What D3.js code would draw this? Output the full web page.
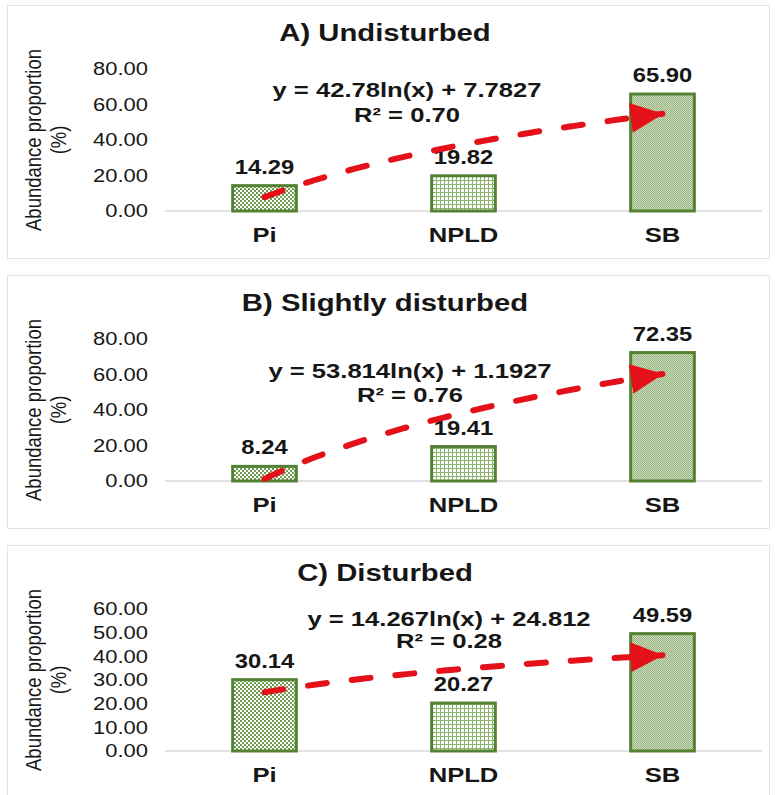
<!DOCTYPE html>
<meta charset="utf-8">
<style>
body { margin: 0; background: #fff; }
svg { display: block; font-family: "Liberation Sans", Arial, sans-serif; }
.panel-box { fill: #fff; stroke: #e4e4e4; stroke-width: 1; }
.baseline { stroke: #d9d9d9; stroke-width: 1.5; }
.bar { stroke: #548235; stroke-width: 3; }
.trend { fill: none; stroke: #e4111b; stroke-width: 6; stroke-dasharray: 19, 25; stroke-linecap: round; }
</style>
<body>
<svg width="775" height="795"></svg>
</body>
<script src="https://d3js.org/d3.v7.min.js"></script>
<script>
// chart data
var categories = ["Pi", "NPLD", "SB"];
var panelTitles = ["A) Undisturbed", "B) Slightly disturbed", "C) Disturbed"];
var undisturbed = [14.29, 19.82, 65.90];
var slightlyDisturbed = [8.24, 19.41, 72.35];
var disturbed = [30.14, 20.27, 49.59];
var yMax = [80, 80, 60];
var yTickStep = [20, 20, 10];
var trendSlope = [42.78, 53.814, 14.267];
var trendIntercept = [7.7827, 1.1927, 24.812];
var trendLabels = ["y = 42.78ln(x) + 7.7827", "y = 53.814ln(x) + 1.1927", "y = 14.267ln(x) + 24.812"];
var r2Labels = ["R\u00b2 = 0.70", "R\u00b2 = 0.76", "R\u00b2 = 0.28"];
var yTitle = ["Abundance proportion", "(%)"];

var panelValues = [undisturbed, slightlyDisturbed, disturbed];
var patternIds = ["pat-check", "pat-grid", "pat-dots"];

// layout (pixels)
var panelTop0 = 5, panelGap = 270, panelH = 253;
var baseOffset = 206, plotH = 142;
var plotLeft = 165, plotRight = 762;
var sx = 1.22; // the picture is wider than plain Arial
var eqPos = [{x: 407, d1: -114, d2: -89}, {x: 410, d1: -103, d2: -79}, {x: 449, d1: -125, d2: -103}];

var svg = d3.select("svg");
var defs = svg.append("defs");

// checker board (Pi)
var p1 = defs.append("pattern").attr("id", "pat-check")
    .attr("width", 4).attr("height", 4).attr("patternUnits", "userSpaceOnUse");
p1.append("rect").attr("width", 4).attr("height", 4).attr("fill", "#ffffff");
p1.append("rect").attr("width", 2).attr("height", 2).attr("fill", "#6f9c50");
p1.append("rect").attr("x", 2).attr("y", 2).attr("width", 2).attr("height", 2).attr("fill", "#6f9c50");

// small grid (NPLD)
var p2 = defs.append("pattern").attr("id", "pat-grid")
    .attr("width", 4).attr("height", 4).attr("patternUnits", "userSpaceOnUse");
p2.append("rect").attr("width", 4).attr("height", 4).attr("fill", "#ffffff");
p2.append("rect").attr("width", 4).attr("height", 1).attr("fill", "#8ab46c");
p2.append("rect").attr("width", 1).attr("height", 4).attr("fill", "#8ab46c");

// fine dots (SB)
var p3 = defs.append("pattern").attr("id", "pat-dots")
    .attr("width", 2).attr("height", 2).attr("patternUnits", "userSpaceOnUse");
p3.append("rect").attr("width", 2).attr("height", 2).attr("fill", "#cfdec3");
p3.append("rect").attr("width", 1).attr("height", 1).attr("fill", "#94b279");
p3.append("rect").attr("x", 1).attr("y", 1).attr("width", 1).attr("height", 1).attr("fill", "#94b279");

defs.append("marker").attr("id", "arrow")
    .attr("markerUnits", "userSpaceOnUse")
    .attr("markerWidth", 36).attr("markerHeight", 32)
    .attr("refX", 32).attr("refY", 15)
    .attr("orient", "auto")
  .append("path")
    .attr("d", "M0,0 L33,15 L0,30 Z")
    .attr("fill", "#e4111b");

function addText(g, x, y, txt, size, weight, anchor) {
    return g.append("text")
        .attr("transform", "translate(" + x + "," + y + ") scale(" + sx + ",1)")
        .attr("text-anchor", anchor || "middle")
        .style("font-size", size + "px")
        .style("font-weight", weight || "normal")
        .attr("fill", "#161616")
        .text(txt);
}

var xScale = d3.scaleBand()
    .domain(categories)
    .range([plotLeft, plotRight])
    .paddingInner(0.68)
    .paddingOuter(0.34);

panelValues.forEach(function(values, i) {
    var top = panelTop0 + i * panelGap;
    var base = top + baseOffset;
    var g = svg.append("g");

    g.append("rect").attr("class", "panel-box")
        .attr("x", 7.5).attr("y", top + 0.5)
        .attr("width", 762).attr("height", panelH);

    var yScale = d3.scaleLinear().domain([0, yMax[i]]).range([base, base - plotH]);

    // title
    addText(g, 385, top + 36, panelTitles[i], 24, "bold");

    // y axis title
    yTitle.forEach(function(t, k) {
        g.append("text")
            .attr("transform", "translate(" + (33 + k * 25) + "," + (base - plotH / 2) + ") scale(" + sx + ",1) rotate(-90)")
            .attr("text-anchor", "middle")
            .attr("dy", "0.35em")
            .style("font-size", "18.5px")
            .attr("fill", "#161616")
            .text(t);
    });

    // y tick labels
    var ticks = d3.range(0, yMax[i] + yTickStep[i] / 2, yTickStep[i]);
    var fmt = d3.format(".2f");
    ticks.forEach(function(t) {
        addText(g, 148, yScale(t), fmt(t), 18, "normal", "end").attr("dy", "0.35em");
    });

    // baseline
    g.append("line").attr("class", "baseline")
        .attr("x1", plotLeft).attr("x2", plotRight)
        .attr("y1", base).attr("y2", base);

    // bars
    g.selectAll(".bar").data(values).enter().append("rect")
        .attr("class", "bar")
        .attr("x", function(d, j) { return xScale(categories[j]); })
        .attr("y", function(d) { return yScale(d); })
        .attr("width", xScale.bandwidth())
        .attr("height", function(d) { return base - yScale(d); })
        .attr("fill", function(d, j) { return "url(#" + patternIds[j] + ")"; });

    // value labels
    values.forEach(function(d, j) {
        addText(g, xScale(categories[j]) + xScale.bandwidth() / 2, yScale(d) - 12, fmt(d), 19.5, "bold");
    });

    // category labels
    categories.forEach(function(c) {
        addText(g, xScale(c) + xScale.bandwidth() / 2, base + 31, c, 21, "bold");
    });

    // log trend line from the fitted equation, x = 1..3
    var step = xScale.step();
    var x0 = xScale(categories[0]) + xScale.bandwidth() / 2;
    var pts = d3.range(1, 3.0001, 0.05).map(function(x) {
        return [x0 + (x - 1) * step, yScale(trendSlope[i] * Math.log(x) + trendIntercept[i])];
    });
    g.append("path").attr("class", "trend")
        .attr("d", d3.line().curve(d3.curveMonotoneX)(pts))
        .attr("marker-end", "url(#arrow)");

    // equation
    addText(g, eqPos[i].x, base + eqPos[i].d1, trendLabels[i], 21, "bold");
    addText(g, eqPos[i].x, base + eqPos[i].d2, r2Labels[i], 21, "bold");
});
</script>
